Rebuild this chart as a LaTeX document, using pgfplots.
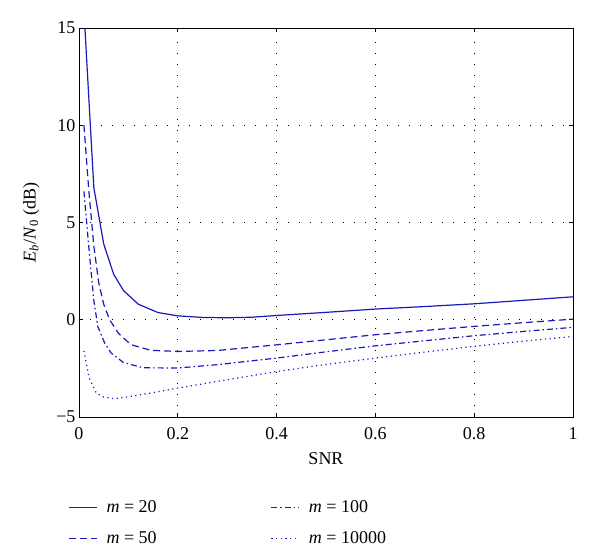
\documentclass[border=0pt]{standalone}
\usepackage{fontspec}
\setmainfont{Liberation Serif}
\usepackage{pgfplots}
\pgfplotsset{compat=1.18}
\definecolor{lineblue}{RGB}{25,25,190}
\begin{document}
\begin{tikzpicture}[font=\fontsize{18}{21}\selectfont]
\path[use as bounding box] (-79pt,-141pt) rectangle (521pt,417pt);
\begin{axis}[
  at={(0,0)}, anchor=south west,
  width=494pt, height=389pt, scale only axis,
  xmin=0, xmax=1, ymin=-5, ymax=15,
  xtick={0,0.2,0.4,0.6,0.8,1},
  xticklabels={0,0.2,0.4,0.6,0.8,1},
  ytick={-5,0,5,10,15},
  yticklabels={−5,0,5,10,15},
  xticklabel style={yshift=-7pt},
  grid=major,
  major grid style={black, line width=0.7pt, dash pattern=on 1pt off 10pt},
  axis line style={line width=0.9pt},
  tick style={black, line width=0.8pt},
  major tick length=4pt,
  xlabel={SNR},
  ylabel={\textit{E}\textsubscript{\textit{b}}/\textit{N}\textsubscript{0} (dB)},
  xlabel style={yshift=-6pt},
  ylabel style={yshift=10pt},
  legend columns=2,
  legend cell align=left,
  legend style={draw=none, fill=none, at={(-0.028,-0.205)}, anchor=north west,
    /tikz/every even column/.append style={column sep=112pt},
    row sep=13pt, font=\fontsize{18}{21}\selectfont},
  legend image code/.code={\draw[#1] (0pt,0pt) -- (28pt,0pt); \path (35pt,0pt);},
]
\addplot[lineblue, line width=1.2pt] coordinates {
(0.01,15.9)(0.03,6.8)(0.05,3.9)(0.07,2.35)(0.09,1.5)(0.12,0.8)(0.16,0.37)(0.2,0.2)(0.25,0.12)(0.3,0.1)(0.35,0.13)(0.4,0.22)(0.5,0.38)(0.6,0.55)(0.7,0.68)(0.8,0.82)(0.9,1.0)(1.0,1.18)};
\addlegendentry{\textit{m} = 20}
\addplot[lineblue, line width=1.2pt, dash pattern=on 6pt off 3pt on 1.5pt off 3pt] coordinates {
(0.01,6.6)(0.02,3.7)(0.03,1.0)(0.038,-0.34)(0.052,-1.2)(0.065,-1.71)(0.09,-2.2)(0.13,-2.47)(0.2,-2.48)(0.28,-2.31)(0.4,-1.97)(0.5,-1.65)(0.6,-1.34)(0.7,-1.08)(0.8,-0.82)(0.9,-0.6)(1.0,-0.39)};
\addlegendentry{\textit{m} = 100}
\addplot[lineblue, line width=1.2pt, dash pattern=on 7pt off 4pt] coordinates {
(0.01,10.0)(0.02,6.6)(0.03,3.8)(0.04,1.9)(0.05,0.8)(0.062,0)(0.08,-0.7)(0.105,-1.28)(0.145,-1.57)(0.2,-1.63)(0.28,-1.58)(0.4,-1.29)(0.5,-1.03)(0.6,-0.77)(0.7,-0.55)(0.8,-0.34)(0.9,-0.15)(1.0,0.03)};
\addlegendentry{\textit{m} = 50}
\addplot[lineblue, line width=1.2pt, dash pattern=on 1.2pt off 3.5pt] coordinates {
(0.01,-1.6)(0.02,-2.95)(0.035,-3.77)(0.05,-3.97)(0.07,-4.06)(0.1,-3.96)(0.145,-3.77)(0.2,-3.51)(0.28,-3.17)(0.4,-2.66)(0.5,-2.3)(0.6,-1.97)(0.7,-1.66)(0.8,-1.37)(0.9,-1.1)(1.0,-0.86)};
\addlegendentry{\textit{m} = 10000}
\end{axis}
\end{tikzpicture}
\end{document}
